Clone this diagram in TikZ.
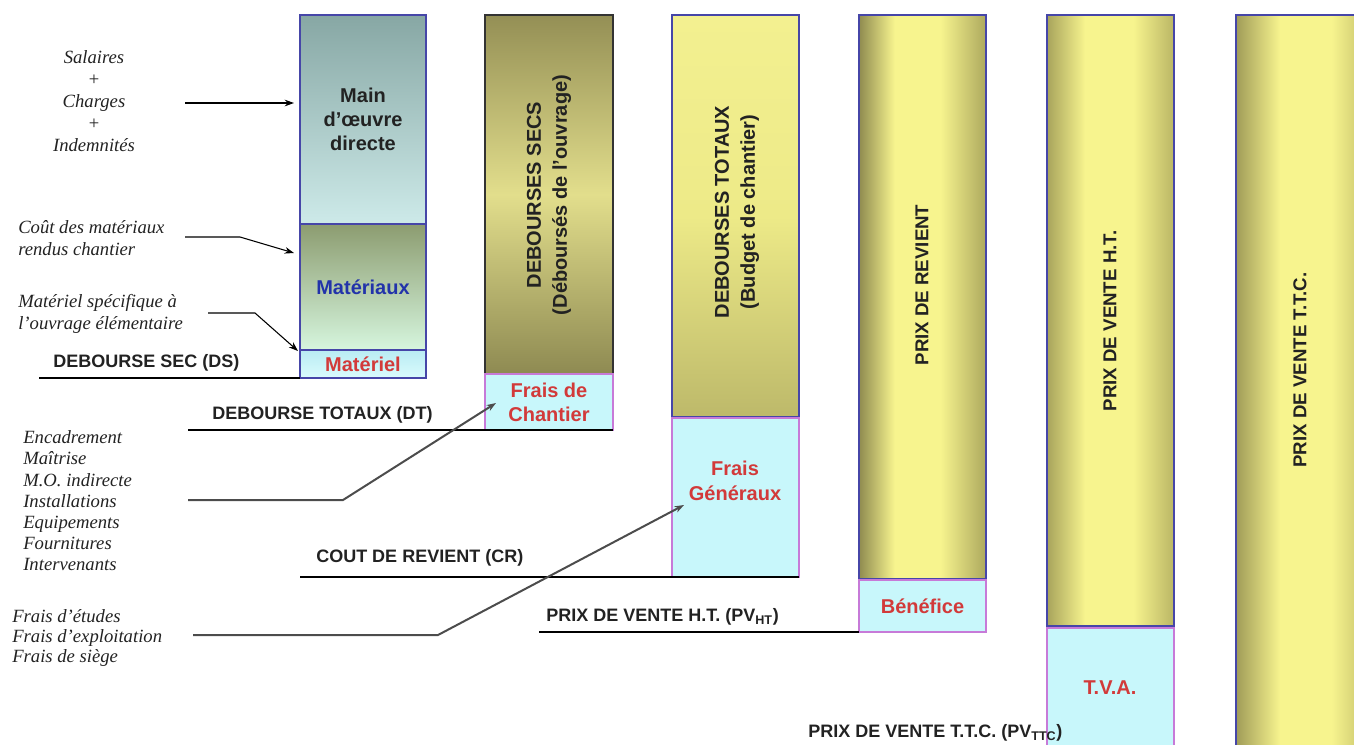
\documentclass[tikz,border=0pt]{standalone}
\usepackage{fontspec}
\setmainfont{Liberation Serif}
\setsansfont{Liberation Sans}
\usetikzlibrary{arrows.meta}
\definecolor{bordblue}{HTML}{4646A8}
\definecolor{bordpink}{HTML}{C77AD8}
\definecolor{cyanfill}{HTML}{C8F7FB}
\definecolor{redtxt}{HTML}{D23A3A}
\definecolor{bluetxt}{HTML}{2233AA}
\definecolor{lblgray}{HTML}{222222}
\definecolor{olvdark}{HTML}{948F55}
\definecolor{olvlight}{HTML}{F7F48E}
\definecolor{moTop}{HTML}{87A7A4}
\definecolor{moBot}{HTML}{CDEAE9}
\definecolor{mxTop}{HTML}{8C9C70}
\definecolor{mxBot}{HTML}{D6F6DE}
\definecolor{mlTop}{HTML}{B9ECF3}
\definecolor{mlBot}{HTML}{DAFBFD}
\definecolor{dsMid}{HTML}{E2DE8C}
\definecolor{dsBot}{HTML}{8E8A52}
\definecolor{dtTop}{HTML}{F3F090}
\definecolor{dtMid}{HTML}{EDEA88}
\definecolor{dtBot}{HTML}{BDB96A}
\definecolor{prL}{HTML}{8F8B50}
\definecolor{prR}{HTML}{ADA95E}
\definecolor{pvL}{HTML}{A8A45C}
\definecolor{pvR}{HTML}{BAB665}
\definecolor{ttL}{HTML}{A09C58}
\definecolor{ttR}{HTML}{C9C56E}
\pgfdeclarehorizontalshading{shPR}{100bp}{color(0bp)=(prL); color(25bp)=(prL); color(39bp)=(olvlight); color(57bp)=(olvlight); color(75bp)=(prR); color(100bp)=(prR)}
\pgfdeclarehorizontalshading{shPV}{100bp}{color(0bp)=(pvL); color(25bp)=(pvL); color(40bp)=(olvlight); color(59bp)=(olvlight); color(75bp)=(pvR); color(100bp)=(pvR)}
\pgfdeclarehorizontalshading{shTT}{100bp}{color(0bp)=(ttL); color(25bp)=(ttL); color(42bp)=(olvlight); color(62bp)=(olvlight); color(75bp)=(ttR); color(100bp)=(ttR)}
\begin{document}
\begin{tikzpicture}[x=0.75pt,y=-0.75pt,
  seg/.style={draw=bordblue, line width=1.3pt, inner sep=0pt, outer sep=0pt,
    font=\sffamily\bfseries\fontsize{15}{18}\selectfont, align=center},
  cyanbox/.style={seg, draw=bordpink, fill=cyanfill, text=redtxt},
  coltext/.style={rotate=90, font=\sffamily\bfseries\fontsize{15}{19.5}\selectfont, align=center, text=lblgray, inner sep=0pt},
  coltextb/.style={rotate=90, font=\sffamily\bfseries\fontsize{14}{17}\selectfont, align=center, text=lblgray, inner sep=0pt},
  lbl/.style={font=\sffamily\bfseries\fontsize{13.5}{16}\selectfont, text=lblgray, anchor=west, inner sep=0pt},
  itl/.style={font=\itshape\fontsize{14}{16}\selectfont, text=lblgray, inner sep=0pt},
  arr/.style={-{Stealth[length=7pt,width=5pt]}, line width=0.8pt},
  feed/.style={-{Stealth[length=7pt,width=5pt]}, draw=black!70, line width=1.5pt},
  base/.style={line width=0.9pt}
]
\useasboundingbox (0,0) rectangle (1354,744);
\clip (0,0) rectangle (1354,744);

% column 1
\node[seg, minimum width=94.5pt, minimum height=156.75pt, top color=moTop, bottom color=moBot, text=lblgray]
  (mo) at (363,119.5) {Main\\d’œuvre\\directe};
\node[seg, minimum width=94.5pt, minimum height=94.5pt, top color=mxTop, bottom color=mxBot, text=bluetxt]
  (mx) at (363,287) {Matériaux};
\node[seg, minimum width=94.5pt, minimum height=21pt, top color=mlTop, bottom color=mlBot, text=redtxt]
  (ml) at (363,364) {Matériel};

% column 2
\node[seg, draw=black!80, minimum width=96pt, minimum height=269.25pt, top color=olvdark, bottom color=dsBot, middle color=dsMid]
  (ds) at (549,194.5) {};
\node[coltext] (dst) at (549,195) {DEBOURSES SECS\\(Déboursés de l’ouvrage)};
\node[cyanbox, minimum width=96pt, minimum height=42pt] (fc) at (549,402) {Frais de\\Chantier};

% column 3
\node[seg, minimum width=95.25pt, minimum height=301.5pt, top color=dtTop, bottom color=dtBot, middle color=dtMid]
  (dt) at (735.5,216) {};
\node[coltext] (dtt) at (737,212) {DEBOURSES TOTAUX\\(Budget de chantier)};
\node[cyanbox, minimum width=95.25pt, minimum height=119.25pt] (fg) at (735.5,497.5) {};
\node[text=redtxt, font=\sffamily\bfseries\fontsize{15}{18.75}\selectfont, align=center, inner sep=0pt] (fgt) at (735,481) {Frais\\Généraux};

% column 4
\node[seg, minimum width=95.25pt, minimum height=423pt, shading=shPR]
  (pr) at (922.5,297) {};
\node[coltextb] (prt) at (922,285) {PRIX DE REVIENT};
\node[cyanbox, minimum width=95.25pt, minimum height=39pt] (ben) at (922.5,606) {Bénéfice};

% column 5
\node[seg, minimum width=95.25pt, minimum height=458.25pt, shading=shPV]
  (pv) at (1110.5,320.5) {};
\node[coltextb] (pvt) at (1110,321) {PRIX DE VENTE H.T.};
\node[cyanbox, minimum width=95.25pt, minimum height=99pt] (tva) at (1110.5,694) {};
\node[text=redtxt, font=\sffamily\bfseries\fontsize{15}{18}\selectfont, inner sep=0pt] (tvat) at (1110,688) {T.V.A.};

% column 6
\node[seg, minimum width=96.75pt, minimum height=558.75pt, shading=shTT]
  (ttc) at (1300.5,387.5) {};
\node[coltextb] (ttct) at (1300,370) {PRIX DE VENTE T.T.C.};

% left italic texts
\node[itl, align=center, font=\itshape\fontsize{14}{16.5}\selectfont] (sal) at (94,101) {Salaires\\+\\Charges\\+\\Indemnités};
\node[itl, align=left, anchor=west] (cout) at (18,238) {Coût des matériaux\\rendus chantier};
\node[itl, align=left, anchor=west] (msp) at (18,314) {Matériel spécifique à\\l’ouvrage élémentaire};
\node[itl, align=left, anchor=west, font=\itshape\fontsize{14}{15.9}\selectfont] (enc) at (23,501) {Encadrement\\Maîtrise\\M.O. indirecte\\Installations\\Equipements\\Fournitures\\Intervenants};
\node[itl, align=left, anchor=west, font=\itshape\fontsize{14}{15}\selectfont] (fra) at (12,638) {Frais d’études\\Frais d’exploitation\\Frais de siège};

% level labels
\node[lbl] (dsl) at (53,363) {DEBOURSE SEC (DS)};
\node[lbl] (dtl) at (212,415) {DEBOURSE TOTAUX (DT)};
\node[lbl] (crl) at (316,558) {COUT DE REVIENT (CR)};
\node[lbl] (pvl) at (546,617) {PRIX DE VENTE H.T. (PV\textsubscript{HT})};
\node[lbl] (ttl) at (808,733) {PRIX DE VENTE T.T.C. (PV\textsubscript{TTC})};

% coordinates for connector ends and bends
\coordinate (a1s) at (185,103);
\coordinate (a1e) at (294,103);
\coordinate (a2s) at (185,237);
\coordinate (a2b) at (240,237);
\coordinate (a2e) at (294,253);
\coordinate (a3s) at (208,313);
\coordinate (a3b) at (255,313);
\coordinate (a3e) at (298,351);
\coordinate (a4s) at (188,500);
\coordinate (a4b) at (343,500);
\coordinate (a4e) at (496,403);
\coordinate (a5s) at (193,635);
\coordinate (a5b) at (438,635);
\coordinate (a5e) at (684,505);
\coordinate (dsL) at (39,378);
\coordinate (dtL) at (188,430);
\coordinate (crL) at (300,577);
\coordinate (pvL) at (539,632);

% level lines
\draw[base] (dsL) -- (ml.south west);
\draw[base] (dtL) -- (fc.south east);
\draw[base] (crL) -- (fg.south east);
\draw[base] (pvL) -- (ben.south west);

% arrows
\draw[arr] (a1s) -- (a1e);
\draw[arr] (a2s) -- (a2b) -- (a2e);
\draw[arr] (a3s) -- (a3b) -- (a3e);
\draw[feed] (a4s) -- (a4b) -- (a4e);
\draw[feed] (a5s) -- (a5b) -- (a5e);
\end{tikzpicture}
\end{document}
